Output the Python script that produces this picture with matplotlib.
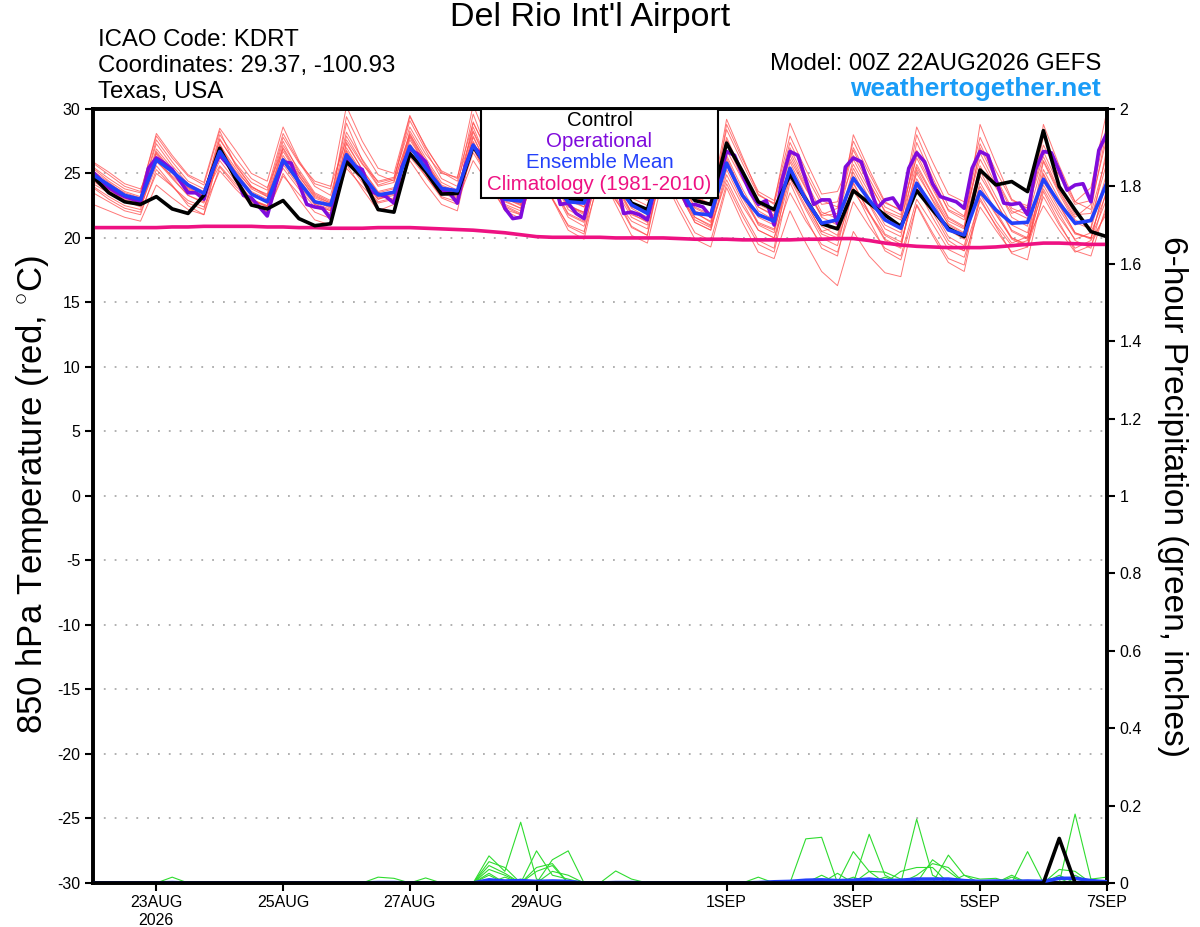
import matplotlib
matplotlib.use('Agg')
import matplotlib.pyplot as plt
import matplotlib.dates as mdates
from matplotlib.patches import Rectangle
from matplotlib.ticker import FuncFormatter
import numpy as np
import pandas as pd

plt.rcParams['font.family'] = ['Liberation Sans', 'DejaVu Sans']
plt.rcParams['mathtext.fontset'] = 'custom'
plt.rcParams['mathtext.rm'] = 'Liberation Sans'
plt.rcParams['axes.unicode_minus'] = False

# 6-hourly GEFS times and 3-hourly operational times
times6 = pd.date_range('2026-08-22 00:00', periods=65, freq='6h')
times3 = pd.date_range('2026-08-22 00:00', periods=129, freq='3h')

control_t = [24.75, 23.5, 22.8, 22.6, 23.2, 22.25, 21.9, 23.3, 26.95, 24.6,
             22.55, 22.25, 22.9, 21.5, 20.95, 21.1, 25.9, 24.7, 22.2, 22.0,
             26.55, 25.15, 23.4, 23.45, 27.1, 25.3, 23.4, 23.1, 26.6, 24.5,
             23.0, 22.9, 26.2, 24.6, 22.7, 22.2, 26.3, 24.3, 22.9, 22.6,
             27.35, 25.15, 22.8, 22.2, 24.9, 23.0, 21.1, 20.7, 23.67, 22.69,
             21.78, 20.88, 23.67, 22.17, 20.75, 20.1, 25.27, 24.11, 24.37, 23.59,
             28.32, 23.98, 22.17, 20.49, 20.1]

mean_t = [24.9, 24.1, 23.3, 23.0, 26.05, 25.15, 24.1, 23.45, 26.7, 24.9,
          23.4, 22.8, 26.05, 24.35, 22.8, 22.55, 26.45, 24.88, 23.33, 23.54,
          27.1, 25.4, 23.85, 23.65, 27.2, 25.2, 23.0, 22.85, 26.3, 24.3,
          22.8, 22.7, 26.0, 24.2, 22.56, 21.9, 26.0, 24.0, 21.9, 21.78,
          25.8, 23.3, 21.8, 21.3, 25.4, 22.95, 21.14, 21.4, 24.63, 22.95,
          21.4, 20.75, 24.24, 22.43, 20.62, 20.23, 23.59, 22.17, 21.14, 21.21,
          24.55, 22.69, 21.14, 21.35, 24.24]

oper_t = [25.1, 24.5, 23.9, 23.5, 23.2, 23.0, 22.8, 25.4, 26.2, 25.8,
          25.3, 24.4, 23.5, 23.5, 23.0, 25.2, 26.4, 25.7, 24.9, 23.3,
          23.1, 22.4, 21.7, 24.0, 25.9, 25.8, 24.2, 22.6, 22.4, 22.3,
          21.5, 24.3, 26.2, 25.6, 25.3, 23.6, 23.4, 23.2, 22.7, 25.5,
          26.9, 26.5, 25.9, 24.4, 23.7, 23.5, 22.7, 25.6, 27.1, 26.5,
          25.5, 24.2, 22.3, 21.5, 21.6, 24.5, 26.8, 26.2, 25.0, 22.6,
          22.7, 21.9, 21.5, 24.0, 26.5, 26.0, 24.8, 21.9, 22.0, 21.8,
          21.4, 24.0, 26.4, 25.8, 24.0, 22.5, 22.6, 22.4, 21.65, 24.5,
          26.7, 26.4, 24.9, 23.5, 22.6, 22.9, 21.0, 24.5, 26.7, 26.4,
          24.5, 22.6, 22.95, 22.95, 21.1, 25.5, 26.2, 25.9, 24.1, 22.3,
          22.95, 23.1, 22.2, 25.4, 26.6, 25.9, 24.2, 23.2, 23.0, 22.8,
          22.3, 25.4, 26.7, 26.4, 24.5, 22.7, 22.6, 22.7, 21.8, 25.3,
          26.7, 26.6, 25.2, 23.7, 24.1, 24.2, 22.8, 26.8, 28.1]

clim_t = [20.8, 20.8, 20.8, 20.8, 20.8, 20.85, 20.85, 20.9, 20.9, 20.9,
          20.9, 20.85, 20.85, 20.8, 20.8, 20.75, 20.75, 20.75, 20.8, 20.8,
          20.8, 20.75, 20.7, 20.65, 20.6, 20.5, 20.4, 20.25, 20.1, 20.05,
          20.05, 20.05, 20.05, 20.0, 20.0, 20.0, 20.0, 19.95, 19.9, 19.9,
          19.9, 19.85, 19.85, 19.85, 19.85, 19.9, 19.9, 19.95, 19.95, 19.8,
          19.6, 19.45, 19.35, 19.3, 19.25, 19.25, 19.25, 19.3, 19.4, 19.5,
          19.6, 19.6, 19.55, 19.5, 19.5]

member_t = [
    [25.8, 24.9, 24.0, 23.6, 27.9, 26.2, 24.8, 24.1, 28.3, 25.6, 24.0, 23.2,
     27.5, 25.1, 23.4, 22.8, 28.9, 26.0, 24.1, 24.5, 29.1, 26.8, 24.6, 24.0,
     29.6, 26.4, 23.9, 23.1, 27.8, 25.0, 22.9, 22.4, 27.1, 24.5, 22.3, 21.6,
     26.9, 24.2, 22.0, 21.2, 25.6, 23.1, 21.1, 20.6, 24.8, 22.4, 20.3, 19.8,
     23.6, 21.9, 20.2, 19.5, 24.1, 22.0, 19.8, 19.0, 22.9, 21.0, 19.4, 19.8,
     23.8, 21.6, 19.9, 20.4, 23.5],
    [23.9, 23.0, 22.3, 22.0, 25.0, 24.0, 22.9, 22.4, 25.2, 23.8, 22.6, 22.0,
     24.8, 23.4, 22.0, 21.5, 25.4, 24.0, 22.7, 23.0, 26.3, 24.8, 23.2, 22.8,
     26.0, 24.1, 22.2, 21.8, 25.1, 23.0, 21.0, 20.5, 24.6, 22.9, 21.3, 20.7,
     25.3, 23.4, 21.6, 21.0, 26.8, 24.5, 22.6, 22.0, 26.1, 23.8, 21.8, 22.3,
     25.7, 23.5, 21.4, 20.9, 25.0, 23.0, 21.1, 20.4, 24.8, 22.8, 20.6, 20.0,
     25.9, 23.4, 21.2, 20.7, 25.0],
    [25.5, 24.6, 23.8, 23.5, 28.1, 26.4, 24.9, 24.3, 28.5, 26.8, 25.0, 24.4,
     28.6, 26.0, 24.2, 23.8, 30.2, 27.5, 25.4, 25.0, 29.5, 27.0, 25.2, 24.6,
     30.3, 27.3, 24.8, 24.2, 29.0, 26.4, 24.0, 23.5, 28.4, 25.9, 23.6, 22.9,
     28.0, 25.7, 23.2, 22.5, 29.2, 26.3, 23.4, 22.6, 27.4, 24.9, 22.6, 22.8,
     27.0, 24.6, 22.4, 21.8, 28.0, 25.1, 22.5, 21.7, 27.3, 24.7, 22.3, 21.8,
     27.9, 25.0, 22.8, 23.9, 29.8],
    [24.5, 23.7, 23.0, 22.7, 26.5, 25.0, 23.7, 23.1, 26.0, 24.4, 23.0, 22.5,
     26.4, 24.6, 22.9, 22.3, 26.0, 24.3, 22.8, 23.1, 27.3, 25.6, 23.9, 23.4,
     27.8, 25.4, 23.0, 22.6, 26.9, 24.6, 22.4, 22.0, 26.4, 24.2, 22.0, 21.4,
     25.6, 23.5, 21.2, 20.6, 24.9, 22.5, 20.6, 20.0, 23.5, 21.3, 19.5, 18.9,
     22.8, 20.9, 19.2, 18.6, 23.0, 21.1, 19.1, 18.5, 22.4, 20.6, 18.9, 19.3,
     23.2, 21.0, 19.2, 19.8, 21.9],
    [25.2, 24.3, 23.4, 22.9, 26.9, 25.4, 23.9, 23.2, 27.3, 25.0, 23.4, 22.7,
     25.4, 23.8, 22.4, 21.9, 26.7, 24.7, 23.1, 23.4, 27.8, 25.6, 23.6, 23.1,
     27.1, 24.5, 22.1, 21.5, 25.8, 23.0, 20.6, 19.9, 25.1, 22.6, 20.2, 19.6,
     24.7, 22.2, 19.9, 19.3, 23.9, 21.2, 18.9, 18.4, 22.1, 19.6, 17.4, 16.3,
     20.5, 18.6, 17.3, 17.0, 22.6, 20.4, 18.4, 17.9, 23.4, 21.3, 19.6, 20.1,
     24.4, 22.2, 20.3, 20.0, 23.0],
    [24.2, 23.5, 22.9, 22.6, 25.9, 24.8, 23.7, 23.3, 27.0, 25.2, 23.9, 23.4,
     27.8, 25.8, 24.4, 24.0, 27.6, 25.7, 24.4, 24.7, 28.6, 26.5, 25.0, 24.7,
     28.9, 26.6, 24.6, 24.0, 28.3, 26.0, 23.7, 23.1, 28.7, 26.2, 23.9, 23.2,
     27.9, 25.4, 23.1, 22.6, 28.4, 25.8, 23.3, 22.7, 28.9, 26.0, 23.4, 23.6,
     26.4, 24.2, 22.1, 21.6, 26.8, 24.4, 22.2, 21.6, 26.1, 23.9, 21.9, 22.4,
     26.7, 24.0, 21.8, 21.9, 26.4],
    [22.6, 22.1, 21.6, 21.3, 24.1, 23.1, 22.2, 21.8, 25.5, 24.0, 22.9, 22.4,
     25.9, 24.2, 22.6, 22.1, 26.8, 24.9, 23.3, 23.6, 27.0, 25.2, 23.5, 23.0,
     26.6, 24.6, 22.8, 22.3, 26.2, 24.0, 21.8, 21.2, 26.9, 24.6, 22.4, 21.9,
     26.2, 24.0, 21.9, 21.3, 26.0, 23.4, 21.2, 20.7, 25.5, 23.1, 21.0, 21.3,
     24.8, 22.7, 20.7, 20.1, 25.5, 23.3, 21.0, 20.3, 23.7, 21.8, 20.0, 19.5,
     24.9, 22.5, 20.4, 20.0, 24.4],
    [25.9, 25.1, 24.2, 23.8, 26.3, 25.1, 23.9, 23.4, 28.0, 26.2, 24.6, 23.9,
     26.9, 24.8, 23.1, 22.6, 29.4, 26.9, 24.9, 24.4, 28.1, 25.9, 24.0, 23.5,
     28.6, 25.7, 23.3, 22.7, 27.4, 24.9, 22.6, 21.9, 26.0, 23.7, 21.6, 21.0,
     27.2, 24.7, 22.4, 21.8, 27.6, 24.9, 22.4, 21.7, 26.4, 23.9, 21.6, 21.0,
     28.0, 25.3, 22.8, 22.1, 26.2, 23.8, 21.5, 20.8, 28.8, 25.8, 23.0, 22.3,
     26.3, 23.7, 21.6, 22.6, 27.7],
    [24.7, 23.8, 22.9, 22.4, 25.6, 24.1, 22.5, 21.8, 26.7, 24.6, 22.8, 22.0,
     25.0, 23.0, 21.4, 21.0, 25.7, 23.8, 22.1, 22.6, 26.0, 24.2, 22.6, 22.1,
     27.4, 24.8, 22.5, 21.9, 26.6, 24.1, 21.9, 21.3, 25.8, 23.2, 20.9, 20.2,
     26.5, 24.0, 21.6, 20.9, 24.5, 22.0, 19.8, 19.2, 25.9, 23.3, 20.9, 20.2,
     25.1, 22.6, 20.3, 19.7, 23.9, 21.6, 19.5, 19.0, 25.2, 22.8, 20.5, 19.9,
     22.5, 20.6, 18.9, 19.4, 22.2],
    [25.4, 24.4, 23.6, 23.2, 27.3, 25.6, 24.2, 23.6, 27.6, 25.8, 24.3, 23.7,
     28.1, 25.9, 24.0, 23.3, 28.2, 26.1, 24.3, 24.6, 29.4, 27.1, 25.1, 24.4,
     28.3, 25.7, 23.5, 22.8, 27.1, 24.6, 22.2, 21.5, 27.7, 25.1, 22.7, 22.0,
     28.6, 25.9, 23.3, 22.6, 27.3, 24.6, 22.1, 21.4, 27.0, 24.4, 22.0, 21.5,
     26.1, 23.8, 21.6, 21.0, 27.4, 24.7, 22.1, 21.4, 26.6, 24.1, 21.6, 20.9,
     28.8, 25.6, 22.8, 22.2, 28.3],
    [24.0, 23.2, 22.5, 22.2, 26.2, 24.7, 23.3, 22.7, 26.4, 24.6, 23.0, 22.4,
     27.0, 25.0, 23.3, 22.7, 27.3, 25.3, 23.5, 23.8, 26.6, 24.8, 23.1, 22.6,
     27.0, 24.6, 22.4, 21.8, 27.5, 24.9, 22.5, 21.8, 26.8, 24.2, 21.9, 21.2,
     25.0, 22.6, 20.4, 19.8, 24.2, 21.7, 19.5, 18.9, 24.3, 21.6, 19.2, 18.6,
     23.9, 21.4, 19.0, 18.3, 22.5, 20.2, 18.1, 17.4, 23.1, 20.9, 18.8, 18.3,
     23.6, 21.2, 19.0, 18.6, 22.6],
    [25.0, 24.2, 23.5, 23.1, 27.6, 25.9, 24.4, 23.8, 26.9, 25.1, 23.6, 23.0,
     26.1, 24.3, 22.7, 22.2, 27.0, 25.0, 23.2, 23.6, 27.6, 25.7, 23.8, 23.3,
     28.2, 25.6, 23.2, 22.6, 28.5, 25.7, 23.1, 22.4, 27.4, 24.8, 22.5, 21.9,
     27.1, 24.6, 22.3, 21.7, 26.4, 23.8, 21.6, 21.0, 25.1, 22.7, 20.5, 20.9,
     25.4, 23.1, 21.0, 20.4, 26.5, 24.0, 21.6, 20.9, 25.6, 23.2, 21.0, 20.4,
     25.3, 23.0, 21.0, 21.5, 25.8],
    [24.4, 23.6, 22.8, 22.5, 26.0, 24.6, 23.3, 22.8, 27.2, 25.4, 23.8, 23.2,
     26.7, 24.8, 23.2, 22.7, 27.9, 25.8, 24.0, 24.3, 28.0, 26.0, 24.1, 23.6,
     26.9, 24.6, 22.6, 22.1, 27.0, 24.7, 22.5, 22.0, 27.9, 25.4, 23.1, 22.5,
     26.6, 24.3, 22.1, 21.6, 28.8, 26.1, 23.6, 22.9, 27.9, 25.3, 22.9, 22.4,
     27.5, 25.0, 22.7, 22.2, 28.6, 25.9, 23.4, 22.8, 27.8, 25.2, 22.9, 22.5,
     27.2, 24.8, 22.6, 22.9, 28.8],
    [23.5, 22.8, 22.1, 21.8, 25.3, 24.0, 22.7, 22.2, 26.6, 24.9, 23.4, 22.8,
     27.2, 25.3, 23.5, 22.9, 26.4, 24.5, 23.0, 23.3, 28.3, 26.2, 24.3, 23.7,
     27.5, 25.1, 22.9, 22.3, 26.4, 23.9, 21.6, 20.9, 25.4, 23.0, 20.8, 20.2,
     25.9, 23.5, 21.2, 20.6, 25.3, 22.8, 20.6, 20.0, 24.6, 22.2, 20.0, 19.4,
     24.2, 22.0, 19.9, 19.3, 24.6, 22.3, 20.1, 19.4, 24.3, 22.1, 20.0, 19.4,
     24.1, 21.9, 19.8, 19.2, 23.8],
    [25.1, 24.0, 23.1, 22.8, 26.7, 25.2, 23.8, 23.3, 25.6, 24.2, 22.9, 22.5,
     26.2, 24.4, 22.8, 22.4, 26.3, 24.6, 23.0, 23.5, 27.1, 25.3, 23.6, 23.2,
     29.0, 26.3, 23.9, 23.3, 28.8, 26.0, 23.4, 22.7, 29.2, 26.4, 23.8, 23.0,
     28.3, 25.7, 23.2, 22.5, 27.8, 25.0, 22.4, 21.8, 26.7, 24.1, 21.7, 21.9,
     26.8, 24.3, 22.0, 21.4, 25.7, 23.4, 21.3, 20.7, 27.0, 24.5, 22.1, 21.5,
     26.0, 23.6, 21.4, 20.8, 26.9],
    [24.6, 23.9, 23.2, 22.9, 26.6, 25.1, 23.7, 23.1, 27.7, 25.7, 24.0, 23.3,
     25.7, 24.0, 22.6, 22.1, 27.4, 25.3, 23.6, 23.9, 27.9, 25.8, 23.9, 23.4,
     27.9, 25.3, 23.1, 22.5, 25.5, 23.1, 20.9, 20.3, 26.5, 24.0, 21.8, 21.3,
     26.0, 23.6, 21.4, 20.8, 26.2, 23.5, 21.0, 20.4, 25.3, 22.8, 20.5, 20.0,
     24.3, 21.9, 19.8, 19.2, 25.3, 22.9, 20.6, 19.9, 24.0, 21.9, 19.9, 19.3,
     25.0, 22.6, 20.4, 19.9, 24.6],
]

control_p = [0.0] * 61 + [0.115, 0.0, 0.0, 0.0]

mean_p = [0, 0, 0, 0, 0, 0.001, 0, 0, 0, 0,
          0, 0, 0, 0, 0, 0, 0, 0, 0.001, 0.001,
          0, 0, 0, 0, 0, 0.008, 0.005, 0.006, 0.004, 0.005,
          0.004, 0, 0, 0.001, 0.001, 0, 0, 0, 0, 0,
          0, 0, 0.001, 0.003, 0.004, 0.007, 0.008, 0.006, 0.007, 0.01,
          0.006, 0.007, 0.01, 0.01, 0.01, 0.006, 0.004, 0.005, 0.004, 0.005,
          0.004, 0.012, 0.012, 0.006, 0.003]

member_p = [
    [0, 0, 0, 0, 0, 0.015, 0, 0, 0, 0,
     0, 0, 0, 0, 0, 0, 0, 0, 0, 0,
     0, 0, 0, 0, 0, 0.07, 0.03, 0.157, 0.01, 0,
     0, 0, 0, 0, 0, 0, 0, 0, 0, 0,
     0, 0, 0, 0, 0, 0.114, 0.118, 0, 0, 0,
     0, 0, 0.165, 0.02, 0, 0, 0, 0, 0, 0,
     0, 0, 0, 0, 0],
    [0, 0, 0, 0, 0, 0, 0, 0, 0, 0,
     0, 0, 0, 0, 0, 0, 0, 0, 0, 0,
     0, 0, 0, 0, 0, 0.055, 0.04, 0, 0.083, 0.02,
     0.01, 0, 0, 0, 0, 0, 0, 0, 0, 0,
     0, 0, 0, 0, 0, 0, 0, 0, 0, 0.126,
     0.02, 0, 0, 0, 0, 0, 0, 0, 0, 0,
     0, 0, 0.178, 0.01, 0],
    [0, 0, 0, 0, 0, 0, 0, 0, 0, 0,
     0, 0, 0, 0, 0, 0, 0, 0, 0, 0,
     0, 0, 0, 0, 0, 0.045, 0.025, 0, 0, 0.06,
     0.083, 0, 0, 0, 0, 0, 0, 0, 0, 0,
     0, 0, 0, 0, 0, 0, 0, 0, 0.081, 0.03,
     0, 0, 0, 0, 0.072, 0.02, 0, 0, 0, 0,
     0, 0, 0, 0, 0],
    [0, 0, 0, 0, 0, 0, 0, 0, 0, 0,
     0, 0, 0, 0, 0, 0, 0, 0, 0.015, 0.012,
     0, 0, 0, 0, 0, 0.035, 0.02, 0, 0.04, 0.05,
     0, 0, 0, 0, 0, 0, 0, 0, 0, 0,
     0, 0, 0, 0, 0, 0, 0.02, 0, 0, 0,
     0, 0.03, 0.04, 0.04, 0, 0, 0, 0, 0, 0.081,
     0, 0, 0, 0, 0],
    [0, 0, 0, 0, 0, 0, 0, 0, 0, 0,
     0, 0, 0, 0, 0, 0, 0, 0, 0, 0,
     0, 0.013, 0, 0, 0, 0.025, 0, 0.01, 0, 0,
     0, 0, 0, 0.031, 0.01, 0, 0, 0, 0, 0,
     0, 0, 0, 0, 0, 0, 0, 0.025, 0, 0,
     0.015, 0, 0, 0.06, 0.03, 0, 0, 0, 0.015, 0,
     0, 0.035, 0.03, 0, 0],
    [0, 0, 0, 0, 0, 0, 0, 0, 0, 0,
     0, 0, 0, 0, 0, 0, 0, 0, 0, 0,
     0, 0, 0, 0, 0, 0.02, 0, 0, 0, 0.03,
     0.02, 0, 0, 0, 0, 0, 0, 0, 0, 0,
     0, 0, 0.015, 0, 0, 0, 0, 0, 0, 0.03,
     0.028, 0.01, 0, 0, 0, 0.02, 0.01, 0.012, 0, 0,
     0, 0.02, 0, 0.01, 0.015],
    [0, 0, 0, 0, 0, 0, 0, 0, 0, 0,
     0, 0, 0, 0, 0, 0, 0, 0, 0, 0,
     0, 0, 0, 0, 0, 0, 0.015, 0, 0.03, 0.045,
     0, 0, 0, 0, 0, 0, 0, 0, 0, 0,
     0, 0, 0, 0, 0, 0, 0, 0, 0.015, 0,
     0, 0, 0.02, 0.05, 0.04, 0, 0, 0, 0.02, 0,
     0, 0, 0.02, 0, 0],
]

tick_dates = ['2026-08-23', '2026-08-25', '2026-08-27', '2026-08-29',
              '2026-09-01', '2026-09-03', '2026-09-05', '2026-09-07']
tick_labels = ['23AUG\n2026', '25AUG', '27AUG', '29AUG',
               '1SEP', '3SEP', '5SEP', '7SEP']

c_oper = '#7f0bdc'
c_mean = '#2340fa'
c_clim = '#ee1182'
c_red = '#ff4a4a'
c_green = '#2fdc2f'

fig = plt.figure(figsize=(12, 9.27), dpi=100)
ax = fig.add_axes([0.0775, 0.0475, 0.8448, 0.835])

for v in range(-25, 30, 5):
    ax.axhline(v, color='#aaaaaa', ls=(0, (1, 5)), lw=1.3, zorder=0.5)

for m in member_t:
    ax.plot(times6, m, color=c_red, lw=0.7, alpha=0.75, zorder=1)

ax.plot(times6, clim_t, color=c_clim, lw=2.6, zorder=3)
ax.plot(times3, oper_t, color=c_oper, lw=2.6, zorder=4)
ax.plot(times6, control_t, color='black', lw=2.6, zorder=5)
ax.plot(times6, mean_t, color=c_mean, lw=2.6, zorder=6)

ax.set_xlim(times6[0], times6[-1])
ax.set_ylim(-30, 30)
ax.set_yticks(range(-30, 31, 5))
ax.set_xticks(pd.to_datetime(tick_dates))
ax.set_xticklabels(tick_labels)
ax.tick_params(axis='both', direction='out', length=6, width=1.5,
               labelsize=11.5, pad=3)

ax2 = ax.twinx()
for m in member_p:
    ax2.plot(times6, m, color=c_green, lw=0.8, zorder=1)
ax2.plot(times6, mean_p, color=c_mean, lw=2.6, zorder=3)
ax2.plot(times6, control_p, color='black', lw=2.6, zorder=4)
ax2.set_ylim(0, 2)
ax2.set_yticks(np.arange(0, 2.01, 0.2))
ax2.yaxis.set_major_formatter(FuncFormatter(lambda v, p: f'{v:g}'))
ax2.tick_params(axis='y', direction='out', length=6, width=1.5,
                labelsize=11.5, pad=3)
ax2.set_xlim(times6[0], times6[-1])

for a in (ax, ax2):
    for s in a.spines.values():
        s.set_linewidth(2.6)

# legend box
ax2.add_patch(Rectangle((0.3827, 0.885), 0.2338, 0.115, transform=ax2.transAxes,
                        facecolor='white', edgecolor='black', lw=1.5,
                        zorder=20, clip_on=False))
leg_items = [('Control', 'black', 0.9845), ('Operational', c_oper, 0.9574),
             ('Ensemble Mean', c_mean, 0.9302),
             ('Climatology (1981-2010)', c_clim, 0.9018)]
for txt, col, yy in leg_items:
    ax2.text(0.4996, yy, txt, color=col, fontsize=14.8, ha='center',
             va='center', transform=ax2.transAxes, zorder=21)

fig.text(0.4917, 0.9806, "Del Rio Int'l Airport", fontsize=24.5,
         ha='center', va='center')
fig.text(0.0817, 0.9569, 'ICAO Code: KDRT', fontsize=17.3, ha='left', va='center')
fig.text(0.0817, 0.9288, 'Coordinates: 29.37, -100.93', fontsize=17.3,
         ha='left', va='center')
fig.text(0.0817, 0.9008, 'Texas, USA', fontsize=17.3, ha='left', va='center')
fig.text(0.9175, 0.931, 'Model: 00Z 22AUG2026 GEFS', fontsize=17.3,
         ha='right', va='center')
fig.text(0.9175, 0.904, 'weathertogether.net', fontsize=19, fontweight='bold',
         color='#1a9cf7', ha='right', va='center')

fig.text(0.0267, 0.466, r'850 hPa Temperature (red, $^{\circ}$C)', fontsize=25,
         rotation=90, ha='center', va='center')
fig.text(0.9767, 0.464, '6-hour Precipitation (green, inches)', fontsize=24,
         rotation=-90, ha='center', va='center')

fig.savefig('out.png', dpi=100)
